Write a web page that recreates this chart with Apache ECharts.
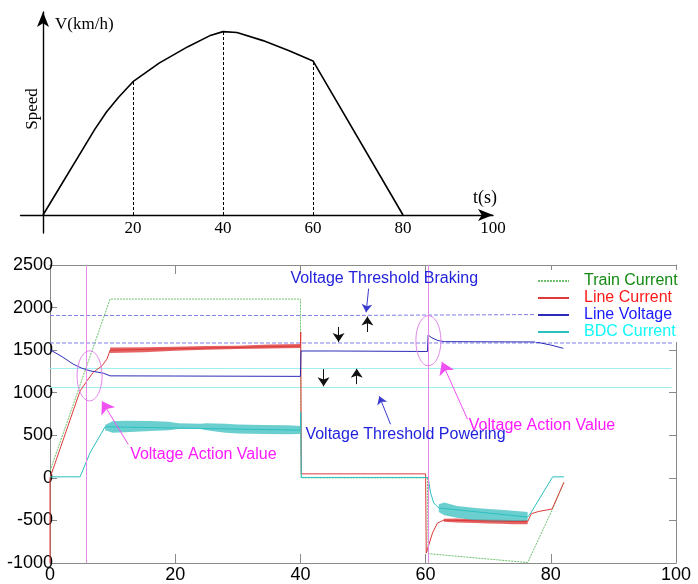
<!DOCTYPE html>
<html><head><meta charset="utf-8">
<script src="https://cdn.jsdelivr.net/npm/echarts@6/dist/echarts.min.js"></script>
<style>html,body{margin:0;padding:0;background:#fff}#c{width:698px;height:584px}</style>
</head><body><div id="c"></div>
<script>
// ---------- Top panel: speed profile (arbitrary speed units, peak = 100) ----------
const speedT = [0, 11.5, 14.1, 16.8, 20, 25.8, 32.2, 37.0, 40, 43.1, 48.9, 54.7, 60, 80];
const speedV = [0, 46.7, 56.2, 64.2, 72.7, 82.8, 91.8, 97.7, 100, 99.5, 95.1, 89.6, 84, 0];
const speedTickLabels = [20, 40, 60, 80, 100];
const dropTimes = [20, 40, 60];

// ---------- Bottom panel ----------
const trainT = [0, 9.6, 40, 40.1, 60.3, 60.4, 76.3, 80.2, 82.1];
const trainV = [80, 2100, 2100, 0, 0, -890, -995, -380, -52];

const lineCurT = [0, 0, 4.8, 5.9, 6.9, 8.3, 9.1, 9.6, 40, 40.05, 40.15, 60, 60.1, 61.1, 61.9, 62.9, 76.3, 76.9, 78.1, 80.2, 82.1];
const lineCurV = [-1000, 0, 1020, 1139, 1238, 1316, 1395, 1500, 1548, 1713, 47, 47, -884, -648, -530, -497, -515, -421, -394, -366, -52];
// noisy envelope of Line Current
const lineCurBand1T = [9.6, 15, 20, 25, 30, 35, 40];
const lineCurBand1Hi = [1530, 1535, 1540, 1548, 1552, 1565, 1572];
const lineCurBand1Lo = [1466, 1475, 1493, 1505, 1513, 1520, 1525];
const lineCurBand2T = [62.9, 65, 68, 70, 72, 74, 76.3];
const lineCurBand2Hi = [-480, -478, -485, -490, -492, -495, -495];
const lineCurBand2Lo = [-515, -525, -530, -535, -540, -545, -545];

const lineVolT = [0, 2, 3.7, 5, 6.4, 8.5, 9.6, 20, 30, 40, 40.1, 45.5, 45.6, 60.3, 60.4, 61, 62, 63, 70, 77.6, 80, 82];
const lineVolV = [1505, 1420, 1336, 1290, 1257, 1230, 1198, 1196, 1194, 1192, 1490, 1490, 1484, 1484, 1678, 1645, 1612, 1600, 1598, 1596, 1560, 1521];

const bdcT = [0, 4.8, 6.4, 8.8, 40, 40.05, 40.15, 60.4, 60.8, 61.3, 62.1, 76.3, 76.8, 80.3, 82.1];
const bdcV = [12, 12, 295, 600, 560, 770, 5, 5, -177, -295, -354, -460, -413, 12, 12];
// noisy envelope of BDC Current
const bdcBand1T = [8.8, 10, 12, 16, 19, 20.5, 24, 25, 28, 30, 34, 38, 40];
const bdcBand1Hi = [620, 665, 670, 667, 660, 640, 635, 640, 635, 628, 622, 617, 610];
const bdcBand1Lo = [560, 530, 535, 550, 560, 575, 575, 560, 530, 522, 515, 511, 515];
const bdcBand2T = [62.1, 63, 65, 68, 70, 72, 74, 76.3];
const bdcBand2Hi = [-310, -290, -330, -355, -365, -375, -385, -400];
const bdcBand2Lo = [-400, -440, -470, -500, -510, -515, -515, -500];

// threshold levels
const brakeThrT = [0, 45.5, 45.5, 99.5];
const brakeThrV = [1907, 1907, 1925, 1925];
const voltActT = [0, 99.5];
const voltActV = [1584, 1584];
const powerThrT = [0, 99.3];
const powerThrHiV = [1285, 1285];
const powerThrLoV = [1061, 1061];

const actionLineTimes = [5.87, 60.5];

// annotations (data coordinates)
const noteTexts = ['Voltage Threshold Braking', 'Voltage Threshold Powering', 'Voltage Action Value', 'Voltage Action Value'];
const notePos = [[38.4, 2339], [40.8, 511], [12.8, 275], [66.9, 609]];
const noteColors = ['#2323dd', '#2323dd', '#ff19ff', '#ff19ff'];
const arrowFrom = [[46.1, 1772], [50.7, 1713], [43.7, 1277], [49.0, 1100], [50.9, 2223], [54.4, 629], [12.5, 393], [66.7, 688]];
const arrowTo   = [[46.1, 1595], [50.7, 1895], [43.7, 1075], [49.0, 1280], [50.5, 1945], [52.6, 959], [8.3, 900], [62.6, 1360]];
const arrowColors = ['#111', '#111', '#111', '#111', '#3a3ad0', '#3a3ad0', '#f050f0', '#f050f0'];
const arrowSizes = [9, 9, 9, 9, 8, 8, 12, 12];
const ellipseCenters = [[6.32, 1198], [60.45, 1611]];

const pairs = (t, v) => t.map((x, i) => [x, v[i]]);
const serif = "'Liberation Serif','Times New Roman',serif";
const sans = "'Liberation Sans',Arial,sans-serif";
const gray = '#8a8a8a';

function band(name, t, hi, lo, color, op) {
  return {
    type: 'custom', name, xAxisIndex: 1, yAxisIndex: 1, silent: true, clip: true,
    data: [[t[0], hi[0]]],
    renderItem(params, api) {
      const pts = [];
      for (let i = 0; i < t.length; i++) pts.push(api.coord([t[i], hi[i]]));
      for (let i = t.length - 1; i >= 0; i--) pts.push(api.coord([t[i], lo[i]]));
      return { type: 'polygon', shape: { points: pts }, style: { fill: color, opacity: op } };
    }
  };
}
function lineS(name, t, v, color, extra) {
  return Object.assign({
    type: 'line', name, xAxisIndex: 1, yAxisIndex: 1, data: pairs(t, v),
    symbol: 'none', showSymbol: false, lineStyle: { color, width: 1 }, itemStyle: { color }
  }, extra || {});
}

const chart = echarts.init(document.getElementById('c'));
const option = {
  animation: false,
  backgroundColor: '#fff',
  grid: [
    { left: 20.5, right: 205, top: 12, bottom: 351 },
    { left: 50, right: 22, top: 265, bottom: 21 }
  ],
  legend: {
    data: [
      { name: 'Train Current', textStyle: { color: '#148a14' } },
      { name: 'Line Current', textStyle: { color: '#ff1a1a' } },
      { name: 'Line Voltage', textStyle: { color: '#1a1aff' } },
      { name: 'BDC Current', textStyle: { color: '#10f8f8' } }
    ],
    orient: 'vertical', left: 535, top: 270, itemWidth: 31, itemHeight: 14, itemGap: 1,
    backgroundColor: '#fff', padding: [3, 2, 2, 2], selectedMode: false,
    itemStyle: { opacity: 0 },
    textStyle: { fontFamily: sans, fontSize: 16, padding: [0, 0, 0, 10] }
  },
  xAxis: [
    { gridIndex: 0, type: 'value', min: -5, max: 100,
      axisLine: { show: true, onZero: true, symbol: ['none', 'arrow'], symbolSize: [9, 15], lineStyle: { color: '#000', width: 1.4 } },
      axisTick: { show: false }, splitLine: { show: false },
      axisLabel: { customValues: speedTickLabels, fontFamily: serif, fontSize: 17, color: '#000', margin: -13 } },
    { gridIndex: 1, type: 'value', min: 0, max: 100, interval: 20, position: 'bottom',
      axisLine: { show: true, onZero: false, lineStyle: { color: gray } },
      axisTick: { inside: true, length: 9, lineStyle: { color: gray } }, splitLine: { show: false },
      axisLabel: { fontFamily: sans, fontSize: 18, color: '#000', margin: 3 } },
    { gridIndex: 1, type: 'value', min: 0, max: 100, interval: 20, position: 'top',
      axisLine: { show: true, onZero: false, lineStyle: { color: gray } },
      axisTick: { inside: true, length: 9, lineStyle: { color: gray } }, splitLine: { show: false },
      axisLabel: { show: false } }
  ],
  yAxis: [
    { gridIndex: 0, type: 'value', min: -9.8, max: 110.7,
      axisLine: { show: true, onZero: true, symbol: ['none', 'arrow'], symbolSize: [9, 15], lineStyle: { color: '#000', width: 1.4 } },
      axisTick: { show: false }, axisLabel: { show: false }, splitLine: { show: false } },
    { gridIndex: 1, type: 'value', min: -1000, max: 2500, interval: 500, position: 'left',
      axisLine: { show: true, onZero: false, lineStyle: { color: gray } },
      axisTick: { inside: true, length: 7, lineStyle: { color: gray } }, splitLine: { show: false },
      axisLabel: { fontFamily: sans, fontSize: 18, color: '#000', margin: -3, formatter: v => String(v) } },
    { gridIndex: 1, type: 'value', min: -1000, max: 2500, interval: 500, position: 'right',
      axisLine: { show: true, onZero: false, lineStyle: { color: gray } },
      axisTick: { inside: true, length: 7, lineStyle: { color: gray } }, splitLine: { show: false },
      axisLabel: { show: false } }
  ],
  series: [
    { type: 'line', name: 'Speed', xAxisIndex: 0, yAxisIndex: 0, data: pairs(speedT, speedV),
      symbol: 'none', lineStyle: { color: '#000', width: 1.6 },
      markLine: { silent: true, symbol: 'none', label: { show: false },
        lineStyle: { color: '#000', type: [3, 2], width: 1 },
        data: dropTimes.map(t => [{ coord: [t, 0] }, { coord: [t, speedV[speedT.indexOf(t)]] }]) } },

    lineS('brake thr', brakeThrT, brakeThrV, '#7e7ee6', { lineStyle: { color: '#7e7ee6', width: 1, type: [4, 2] } }),
    lineS('action thr', voltActT, voltActV, '#7e7ee6', { lineStyle: { color: '#7e7ee6', width: 1, type: [4, 2] } }),
    lineS('power thr hi', powerThrT, powerThrHiV, '#9aeeee'),
    lineS('power thr lo', powerThrT, powerThrLoV, '#9aeeee'),
    { type: 'line', name: 'action lines', xAxisIndex: 1, yAxisIndex: 1, data: [], symbol: 'none',
      markLine: { silent: true, label: { show: false }, symbol: 'none',
        lineStyle: { color: '#e68ae6', width: 1, type: 'solid' },
        data: actionLineTimes.map(t => ({ xAxis: t })) } },

    lineS('Train Current', trainT, trainV, '#6cc06c', { lineStyle: { color: '#6cc06c', width: 1, type: [2, 1] } }),
    lineS('Line Current', lineCurT, lineCurV, '#dd3a3a'),
    band('lc band 1', lineCurBand1T, lineCurBand1Hi, lineCurBand1Lo, '#de3c3c', 0.8),
    band('lc band 2', lineCurBand2T, lineCurBand2Hi, lineCurBand2Lo, '#de3c3c', 0.8),
    lineS('BDC Current', bdcT, bdcV, '#2cc0c0'),
    band('bdc band 1', bdcBand1T, bdcBand1Hi, bdcBand1Lo, '#33bcbc', 0.72),
    band('bdc band 2', bdcBand2T, bdcBand2Hi, bdcBand2Lo, '#33bcbc', 0.72),
    lineS('Line Voltage', lineVolT, lineVolV, '#2c2cb8'),

    { type: 'line', name: 'arrows', xAxisIndex: 1, yAxisIndex: 1, data: [], symbol: 'none', z: 5,
      markLine: { silent: true, label: { show: false }, symbol: ['none', 'arrow'],
        data: arrowFrom.map((f, i) => [
          { coord: f, lineStyle: { color: arrowColors[i], width: 1, type: 'solid' }, itemStyle: { color: arrowColors[i] } },
          { coord: arrowTo[i], symbolSize: arrowSizes[i], lineStyle: { color: arrowColors[i], width: 1, type: 'solid' }, itemStyle: { color: arrowColors[i] } }
        ]) } }
  ]
};
chart.setOption(option);

const px = (t, v) => chart.convertToPixel({ gridIndex: 1 }, [t, v]);
const graphics = [
  { type: 'text', x: 55, y: 25, style: { text: 'V(km/h)', font: '17px ' + serif, fill: '#000', textAlign: 'left', textVerticalAlign: 'middle' } },
  { type: 'text', x: 33, y: 109, rotation: Math.PI / 2, style: { text: 'Speed', font: '17px ' + serif, fill: '#000', textAlign: 'center', textVerticalAlign: 'middle' } },
  { type: 'text', x: 473, y: 198, style: { text: 't(s)', font: '18px ' + serif, fill: '#000', textAlign: 'left', textVerticalAlign: 'middle' } }
];
noteTexts.forEach((s, i) => {
  const p = px(notePos[i][0], notePos[i][1]);
  graphics.push({ type: 'text', x: p[0], y: p[1], z: 10, style: { text: s, font: '16px ' + sans, fill: noteColors[i], textAlign: 'left', textVerticalAlign: 'middle' } });
});
ellipseCenters.forEach(c => {
  const p = px(c[0], c[1]);
  graphics.push({ type: 'ellipse', z: 10, shape: { cx: p[0], cy: p[1], rx: 12.5, ry: 25 }, style: { fill: 'none', stroke: '#e084e8', lineWidth: 1 } });
});
chart.setOption({ graphic: graphics });
</script></body></html>
